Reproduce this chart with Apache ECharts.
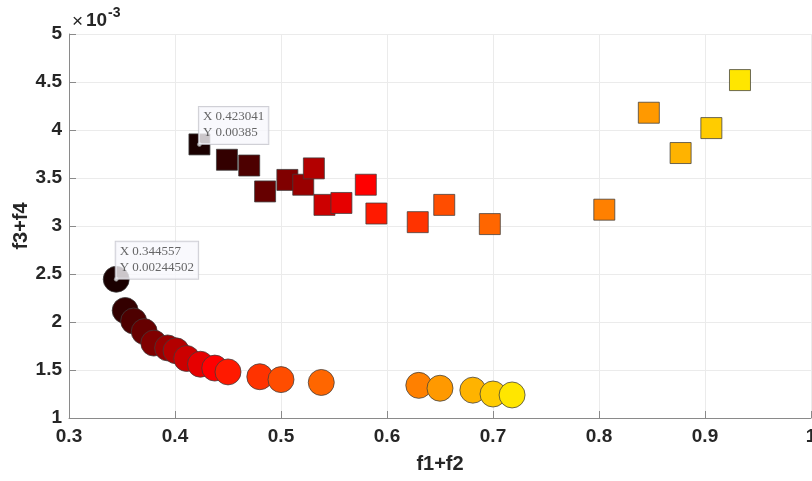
<!DOCTYPE html>
<html>
<head>
<meta charset="utf-8">
<script src="https://cdn.jsdelivr.net/npm/echarts@6/dist/echarts.min.js"></script>
<style>
html,body{margin:0;padding:0;background:#fff;}
#chart{width:812px;height:481px;}
</style>
</head>
<body>
<div id="chart"></div>
<script>
// ---- data ----
const squareX = [0.423041, 0.449, 0.470, 0.485, 0.506, 0.521, 0.531, 0.541, 0.557, 0.580, 0.590, 0.629, 0.654, 0.697, 0.805, 0.847, 0.877, 0.906, 0.933];
const squareY = [0.00385, 0.00369, 0.00363, 0.00336, 0.00348, 0.00343, 0.00360, 0.00322, 0.00324, 0.00343, 0.00313, 0.00304, 0.00322, 0.00302, 0.00317, 0.00418, 0.00376, 0.00402, 0.00452];
const circleX = [0.344557, 0.353, 0.361, 0.371, 0.380, 0.393, 0.401, 0.411, 0.424, 0.4375, 0.450, 0.480, 0.500, 0.538, 0.630, 0.650, 0.681, 0.700, 0.718];
const circleY = [0.00244502, 0.00212, 0.00201, 0.00190, 0.00178, 0.00173, 0.00170, 0.00162, 0.00156, 0.00152, 0.00148, 0.00143, 0.00140, 0.00137, 0.00134, 0.00131, 0.00129, 0.00125, 0.00124];
const xTicks = [0.3, 0.4, 0.5, 0.6, 0.7, 0.8, 0.9, 1];
const yTicks = [0.001, 0.0015, 0.002, 0.0025, 0.003, 0.0035, 0.004, 0.0045, 0.005];
const xName = 'f1+f2';
const yName = 'f3+f4';
const yExponent = '-3';
// data tips point at the first point of each series
const tipPoints = [[squareX[0], squareY[0]], [circleX[0], circleY[0]]];

const squareData = squareX.map((x, i) => [x, squareY[i], i]);
const circleData = circleX.map((x, i) => [x, circleY[i], i]);

const axisColor = '#8a8a8a';
const textColor = '#262626';
const font = 'Liberation Sans, Arial, sans-serif';

const chart = echarts.init(document.getElementById('chart'), null, {renderer: 'canvas'});
chart.setOption({
  animation: false,
  backgroundColor: '#ffffff',
  grid: {left: 69, right: 1, top: 34, bottom: 63, containLabel: false, outerBoundsMode: 'none'},
  xAxis: {
    type: 'value',
    min: xTicks[0], max: xTicks[xTicks.length - 1], interval: 0.1,
    name: xName, nameLocation: 'middle', nameGap: 36, nameMoveOverlap: false,
    nameTextStyle: {fontFamily: font, fontWeight: 'bold', fontSize: 20, color: textColor},
    axisLine: {show: true, onZero: false, lineStyle: {color: axisColor, width: 1}},
    axisTick: {show: true, inside: true, length: 7, lineStyle: {color: axisColor}},
    axisLabel: {
      margin: 9, fontFamily: font, fontWeight: 'bold', fontSize: 19, color: textColor,
      hideOverlap: false,
      formatter: v => String(parseFloat(v.toFixed(2)))
    },
    splitLine: {show: true, lineStyle: {color: '#ebebeb', width: 1}}
  },
  yAxis: {
    type: 'value',
    min: yTicks[0], max: yTicks[yTicks.length - 1], interval: 0.0005,
    name: yName, nameLocation: 'middle', nameGap: 38, nameMoveOverlap: false,
    nameTextStyle: {fontFamily: font, fontWeight: 'bold', fontSize: 20, color: textColor},
    axisLine: {show: true, onZero: false, lineStyle: {color: axisColor, width: 1}},
    axisTick: {show: true, inside: true, length: 7, lineStyle: {color: axisColor}},
    axisLabel: {
      margin: 7, fontFamily: font, fontWeight: 'bold', fontSize: 19, color: textColor,
      formatter: v => String(parseFloat((v * 1000).toFixed(3)))
    },
    splitLine: {show: true, lineStyle: {color: '#ebebeb', width: 1}}
  },
  visualMap: {
    show: false,
    type: 'continuous',
    dimension: 2,
    seriesIndex: [0, 1],
    min: 0, max: 18,
    inRange: {color: ['#1a0000', '#ff0000', '#ffe600']}
  },
  series: [
    {
      type: 'scatter',
      symbol: 'rect',
      symbolSize: 21,
      data: squareData,
      itemStyle: {borderColor: 'rgba(60,60,60,0.75)', borderWidth: 1, opacity: 1}
    },
    {
      type: 'scatter',
      symbol: 'circle',
      symbolSize: 26,
      data: circleData,
      itemStyle: {borderColor: 'rgba(60,60,60,0.75)', borderWidth: 1, opacity: 1}
    },
    {
      type: 'scatter',
      symbol: 'circle',
      symbolSize: 4,
      z: 10,
      data: tipPoints,
      itemStyle: {color: '#ffffff', borderColor: '#777777', borderWidth: 1},
      label: {
        show: true,
        position: [2, 2],
        align: 'left',
        verticalAlign: 'bottom',
        formatter: p => 'X ' + p.value[0] + '\nY ' + p.value[1],
        fontFamily: 'Liberation Serif, DejaVu Serif, serif',
        fontSize: 13,
        lineHeight: 16,
        color: '#404040',
        backgroundColor: '#f8f8fd',
        borderColor: '#c4c4cc',
        borderWidth: 1,
        padding: [2, 4, 3, 4]
      }
    }
  ],
  graphic: [
    {
      type: 'text', left: 72, top: 12,
      style: {text: '×', font: 'normal 19px ' + font, fill: textColor}
    },
    {
      type: 'text', left: 86, top: 11,
      style: {text: '10', font: 'bold 19px ' + font, fill: textColor}
    },
    {
      type: 'text', left: 108, top: 6,
      style: {text: yExponent, font: 'bold 14px ' + font, fill: textColor}
    }
  ]
});
</script>
</body>
</html>
